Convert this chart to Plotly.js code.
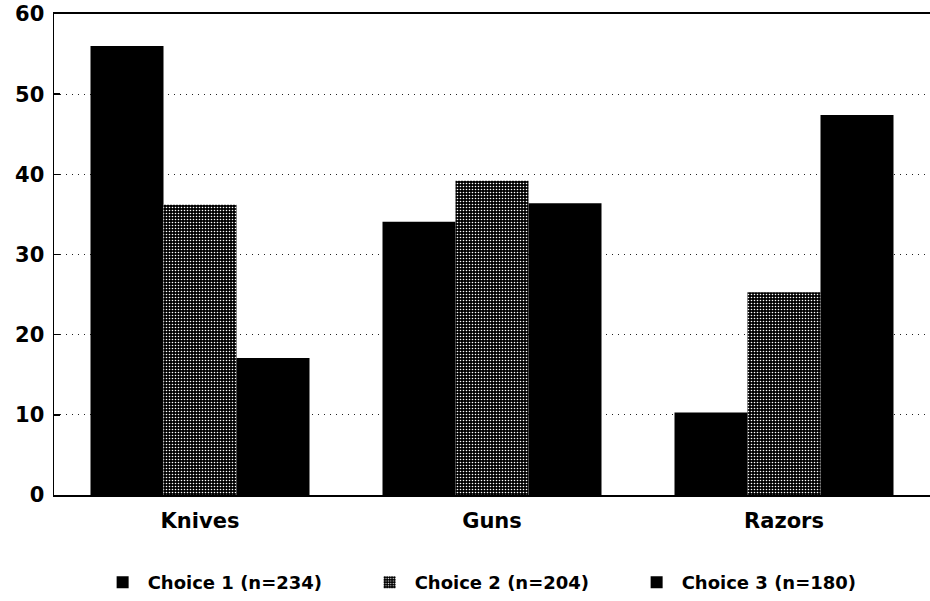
<!DOCTYPE html>
<html>
<head>
<meta charset="utf-8">
<script src="https://cdn.plot.ly/plotly-3.0.1.min.js"></script>
<style>html,body{margin:0;padding:0;background:#fff;}#chart{width:930px;height:601px;}</style>
</head>
<body>
<div id="chart"></div>
<script>
const categories = ["Knives", "Guns", "Razors"];
const seriesNames = ["Choice 1 (n=234)", "Choice 2 (n=204)", "Choice 3 (n=180)"];
const choice1 = [56, 34.1, 10.3];
const choice2 = [36.2, 39.2, 25.3];
const choice3 = [17.1, 36.4, 47.4];
const yTicks = [0, 10, 20, 30, 40, 50, 60];

const font = "DejaVu Sans, Arial, sans-serif";
const traces = [
  {type: "bar", x: categories, y: choice1, name: seriesNames[0],
   marker: {color: "#000", line: {width: 0}}},
  {type: "bar", x: categories, y: choice2, name: seriesNames[1],
   marker: {color: "#000", line: {width: 0},
     pattern: {shape: ".", bgcolor: "#000", fgcolor: "#fff", size: 3, solidity: 0.22, fillmode: "replace"}}},
  {type: "bar", x: categories, y: choice3, name: seriesNames[2],
   marker: {color: "#000", line: {width: 0}}}
];

const layout = {
  width: 930, height: 601,
  margin: {l: 54, r: 0, t: 14, b: 106},
  paper_bgcolor: "#fff", plot_bgcolor: "#fff",
  barmode: "group", bargap: 0.25, bargroupgap: 0,
  showlegend: true,
  legend: {orientation: "h", x: 0.507, xanchor: "center", y: -0.183, yanchor: "middle",
    font: {family: font, size: 18, color: "#000", weight: "bold"}, itemwidth: 40,
    entrywidth: 212, traceorder: "normal"},
  xaxis: {showline: true, linecolor: "#000", linewidth: 2, mirror: true, ticks: "",
    ticklabelstandoff: 6,
    tickfont: {family: font, size: 21, color: "#000", weight: "bold"}, showgrid: false},
  yaxis: {range: [0, 60], tickvals: yTicks, showline: true, linecolor: "#000", linewidth: 1.5,
    ticks: "inside", ticklen: 6, tickcolor: "#000", tickwidth: 1.5,
    ticklabelstandoff: 4,
    tickfont: {family: font, size: 21, color: "#000", weight: "bold"},
    showgrid: true, gridcolor: "#222", griddash: "1px,5px", gridwidth: 1.2,
    zeroline: false}
};

Plotly.newPlot("chart", traces, layout, {displayModeBar: false, staticPlot: true});
</script>
</body>
</html>
